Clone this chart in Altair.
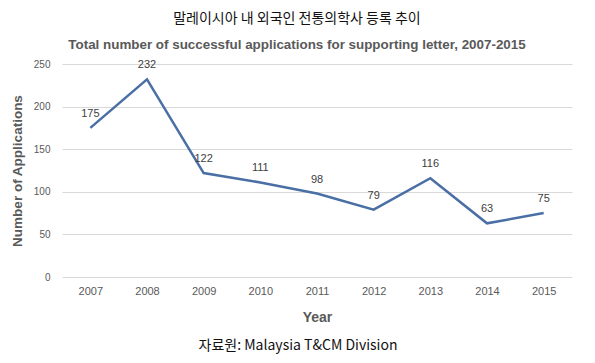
import altair as alt
import pandas as pd

years = ["2007", "2008", "2009", "2010", "2011", "2012", "2013", "2014", "2015"]
values = [175, 232, 122, 111, 98, 79, 116, 63, 75]
y_ticks = [0, 50, 100, 150, 200, 250]

df = pd.DataFrame({"Year": years, "Applications": values})

x_enc = alt.X("Year:O", sort=years,
              scale=alt.Scale(type="point", padding=0.5),
              axis=alt.Axis(title="Year", labelAngle=0, labelColor="#595959",
                            labelFont="Liberation Sans", labelFontSize=11,
                            labelPadding=8, ticks=False, domain=False,
                            titleFont="Liberation Sans", titleFontSize=14,
                            titleFontWeight="bold", titleColor="#595959",
                            titlePadding=14))
y_enc = alt.Y("Applications:Q",
              scale=alt.Scale(domain=[0, 250], nice=False),
              axis=alt.Axis(title="Number of Applications", values=y_ticks,
                            labelColor="#595959", labelFont="Liberation Sans",
                            labelFontSize=10, labelPadding=12, ticks=False,
                            domain=False, gridColor="#d9d9d9",
                            titleFont="Liberation Sans", titleFontSize=13.5,
                            titleFontWeight="bold", titleColor="#595959",
                            titlePadding=9))

line = alt.Chart(df).mark_line(color="#4a6fa5", strokeWidth=2.5).encode(x=x_enc, y=y_enc)

labels = alt.Chart(df).mark_text(dy=-14, fontSize=11, font="Liberation Sans",
                                 color="#404040").encode(
    x=alt.X("Year:O", sort=years), y="Applications:Q", text="Applications:Q")

source = alt.Chart(pd.DataFrame({"t": ["자료원: Malaysia T&CM Division"]})).mark_text(
    font="Noto Sans CJK KR", fontSize=14, color="#111111", baseline="middle"
).encode(x=alt.value(236), y=alt.value(282), text="t:N")

chart = alt.layer(line, labels, source).properties(
    width=510, height=213,
    autosize=alt.AutoSizeParams(type="none"),
    padding={"left": 54, "top": 56, "right": 15, "bottom": 84},
    title=alt.TitleParams(
        text="말레이시아 내 외국인 전통의학사 등록 추이",
        subtitle="Total number of successful applications for supporting letter, 2007-2015",
        anchor="middle", frame="group", dx=-20, offset=8,
        font="Noto Sans CJK KR", fontSize=14, fontWeight="normal", color="#111111",
        subtitleFont="Liberation Sans", subtitleFontSize=13.4,
        subtitleFontWeight="bold", subtitleColor="#595959", subtitlePadding=12),
).configure_view(stroke=None)

chart.save("out.html", embed_options={"renderer": "svg", "actions": False})
